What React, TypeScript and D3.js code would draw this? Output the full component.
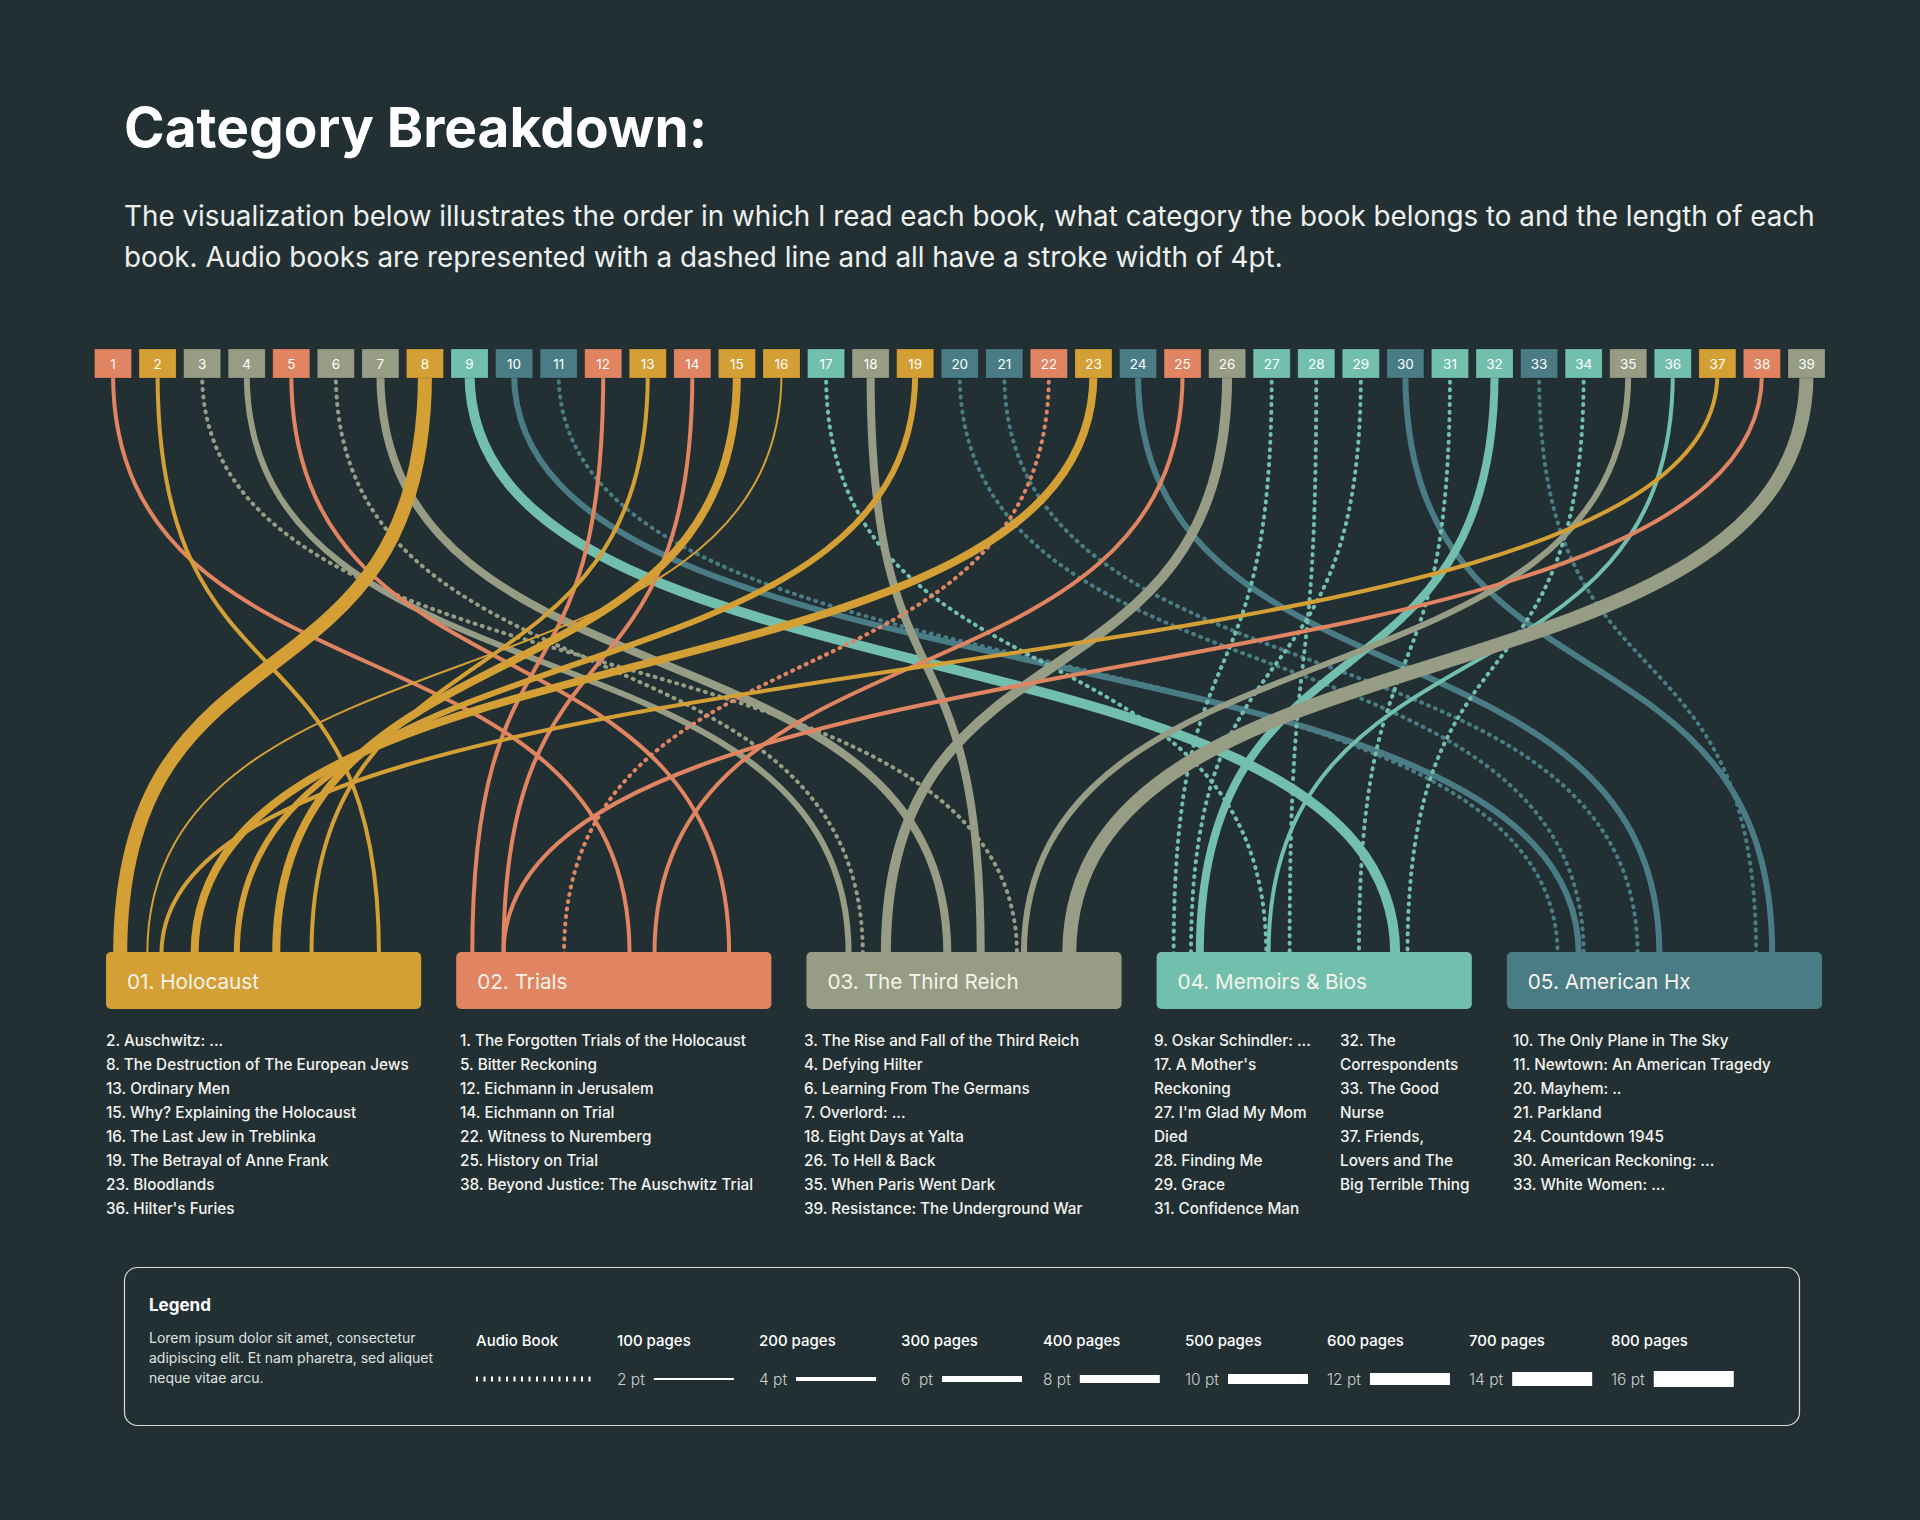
import { useEffect, useRef } from 'react';
import * as d3 from 'd3';

const categoryNames = ['01. Holocaust', '02. Trials', '03. The Third Reich', '04. Memoirs & Bios', '05. American Hx'];
const categoryColors = ['#D4A036', '#E08462', '#979C85', '#73BFAE', '#4A7C86'];

// one entry per book, in reading order 1..39
const bookCategory = [1, 0, 2, 2, 1, 2, 2, 0, 3, 4, 4, 1, 0, 1, 0, 0, 3, 2, 0, 4, 4, 1, 0, 4, 1, 2, 3, 3, 3, 4, 3, 3, 4, 3, 2, 3, 0, 1, 2];
const bookPages = [200, 200, 0, 300, 200, 0, 400, 700, 500, 300, 0, 200, 200, 200, 400, 100, 0, 400, 300, 0, 0, 0, 400, 300, 200, 500, 0, 0, 0, 300, 0, 400, 0, 0, 300, 200, 200, 200, 700];
const bookAudio = [0, 0, 1, 0, 0, 1, 0, 0, 0, 0, 1, 0, 0, 0, 0, 0, 1, 0, 0, 1, 1, 1, 0, 0, 0, 0, 1, 1, 1, 0, 1, 0, 1, 1, 0, 0, 0, 0, 0];
// where each line lands on its category bar (0 = left edge, 1 = right edge)
const bookAnchor = [
  0.55, 0.866, 0.668, 0.134, 0.866, 0.179, 0.447, 0.045, 0.757, 0.228,
  0.161, 0.051, 0.652, 0.15, 0.54, 0.131, 0.348, 0.553, 0.415, 0.244,
  0.415, 0.342, 0.281, 0.484, 0.629, 0.252, 0.054, 0.422, 0.109, 0.842,
  0.642, 0.137, 0.791, 0.796, 0.69, 0.355, 0.176, 0.15, 0.834,
];

const holocaustTitles = ['2. Auschwitz: ...', '8. The Destruction of The European Jews', '13. Ordinary Men', '15. Why? Explaining the Holocaust', '16. The Last Jew in Treblinka', '19. The Betrayal of Anne Frank', '23. Bloodlands', "36. Hilter's Furies"];
const trialsTitles = ['1. The Forgotten Trials of the Holocaust', '5. Bitter Reckoning', '12. Eichmann in Jerusalem', '14. Eichmann on Trial', '22. Witness to Nuremberg', '25. History on Trial', '38. Beyond Justice: The Auschwitz Trial'];
const reichTitles = ['3. The Rise and Fall of the Third Reich', '4. Defying Hilter', '6. Learning From The Germans', '7. Overlord: ...', '18. Eight Days at Yalta', '26. To Hell & Back', '35. When Paris Went Dark', '39. Resistance: The Underground War'];
const memoirsTitlesA = ['9. Oskar Schindler: ...', "17. A Mother's", 'Reckoning', "27. I'm Glad My Mom", 'Died', '28. Finding Me', '29. Grace', '31. Confidence Man'];
const memoirsTitlesB = ['32. The', 'Correspondents', '33. The Good', 'Nurse', '37.  Friends,', 'Lovers and The', 'Big Terrible Thing'];
const americanTitles = ['10. The Only Plane in The Sky', '11. Newtown: An American Tragedy', '20. Mayhem: ..', '21. Parkland', '24. Countdown 1945', '30. American Reckoning: ...', '33. White Women: ...'];

const legendPages = [100, 200, 300, 400, 500, 600, 700, 800];
const legendPt = ['2 pt', '4 pt', '6  pt', '8 pt', '10 pt', '12 pt', '14 pt', '16 pt'];
const lorem = ['Lorem ipsum dolor sit amet, consectetur', 'adipiscing elit. Et nam pharetra, sed aliquet', 'neque vitae arcu.'];

const FONT = 'Inter, Roboto, "Noto Sans", sans-serif';
const BG = '#233033';

export default function App() {
  const svgRef = useRef<SVGSVGElement>(null);

  useEffect(() => {
    document.body.style.margin = '0';
    if (!svgRef.current) {
      return;
    }
    const width = 1920;
    const height = 1520;
    const topY = 349;
    const boxH = 29;
    const catY = 952;
    const catH = 57;

    const svg = d3.select(svgRef.current).attr('width', width).attr('height', height);
    svg.selectAll('*').remove();
    svg.append('rect').attr('width', width).attr('height', height).attr('fill', BG);

    const ids = bookCategory.map((_, i) => String(i + 1));
    const xBook = d3.scalePoint<string>().domain(ids).range([113, 1806.5]);
    const xCat = d3.scaleBand<number>().domain(d3.range(categoryNames.length)).range([106, 1822]).paddingInner(0.1);
    const strokeW = d3.scaleLinear().domain([100, 800]).range([2, 16]);

    // vertical S-curve with long handles so the lines leave and enter straight
    const curve = (x1: number, y1: number, x2: number, y2: number) => {
      const k = (y2 - y1) * 0.6;
      const p = d3.path();
      p.moveTo(x1, y1);
      p.bezierCurveTo(x1, y1 + k, x2, y2 - k, x2, y2);
      return p.toString();
    };

    const g = svg.append('g').style('font-family', FONT);

    // title
    g.append('text').attr('x', 124).attr('y', 147).attr('fill', '#ffffff')
      .style('font-size', '55px').style('font-weight', 700).text('Category Breakdown:');
    const sub = [
      'The visualization below illustrates the order in which I read each book, what category the book belongs to and the length of each',
      'book. Audio books are represented with a dashed line and all have a stroke width of 4pt.',
    ];
    g.selectAll('text.sub').data(sub).enter().append('text').attr('class', 'sub')
      .attr('x', 124).attr('y', (_, i) => 226 + i * 41).attr('fill', '#eef0ee')
      .style('font-size', '27.8px').style('font-weight', 400).text((d) => d);

    // curves
    const books = ids.map((id, i) => ({
      id,
      cat: bookCategory[i],
      audio: bookAudio[i] === 1,
      pages: bookPages[i],
      anchor: bookAnchor[i],
    }));

    g.append('g').selectAll('path').data(books).enter().append('path')
      .attr('d', (d) => curve(xBook(d.id)!, topY + boxH - 4, xCat(d.cat)! + d.anchor * xCat.bandwidth(), catY + 2))
      .attr('fill', 'none')
      .attr('stroke', (d) => categoryColors[d.cat])
      .attr('stroke-width', (d) => (d.audio ? 4 : strokeW(d.pages)))
      .attr('stroke-dasharray', (d) => (d.audio ? '1 6.5' : null))
      .attr('stroke-linecap', (d) => (d.audio ? 'round' : 'butt'));

    // number boxes
    const nb = g.append('g').selectAll('g').data(books).enter().append('g')
      .attr('transform', (d) => `translate(${xBook(d.id)},${topY})`);
    nb.append('rect').attr('x', -18.5).attr('width', 37).attr('height', boxH)
      .attr('fill', (d) => categoryColors[d.cat]).attr('stroke', 'rgba(0,0,0,0.15)').attr('stroke-width', 1);
    nb.append('text').attr('y', boxH / 2 + 5).attr('text-anchor', 'middle').attr('fill', '#ffffff')
      .style('font-size', '13.5px').text((d) => d.id);

    // category bars
    const cb = g.append('g').selectAll('g').data(categoryNames).enter().append('g')
      .attr('transform', (_, i) => `translate(${xCat(i)},${catY})`);
    cb.append('rect').attr('width', xCat.bandwidth()).attr('height', catH).attr('rx', 5)
      .attr('fill', (_, i) => categoryColors[i]);
    cb.append('text').attr('x', 21).attr('y', 37).attr('fill', '#f6f3ea')
      .style('font-size', '20.7px').style('font-weight', 400).text((d) => d);

    // book lists
    const lists: [string[], number][] = [
      [holocaustTitles, 106],
      [trialsTitles, 460],
      [reichTitles, 804],
      [memoirsTitlesA, 1154],
      [memoirsTitlesB, 1340],
      [americanTitles, 1513],
    ];
    lists.forEach(([lines, x]) => {
      g.append('g').selectAll('text').data(lines).enter().append('text')
        .attr('x', x).attr('y', (_, i) => 1046 + i * 24).attr('fill', '#f3f3f0')
        .style('font-size', '15.3px').style('font-weight', 500).text((d) => d);
    });

    // legend
    const lg = g.append('g');
    lg.append('rect').attr('x', 124.5).attr('y', 1267.5).attr('width', 1675).attr('height', 158).attr('rx', 13)
      .attr('fill', 'none').attr('stroke', '#d6d9d8').attr('stroke-width', 1.2);
    lg.append('text').attr('x', 149).attr('y', 1311).attr('fill', '#ffffff')
      .style('font-size', '17px').style('font-weight', 700).text('Legend');
    lg.selectAll('text.lorem').data(lorem).enter().append('text').attr('class', 'lorem')
      .attr('x', 149).attr('y', (_, i) => 1343 + i * 20).attr('fill', '#dfe2e1')
      .style('font-size', '14px').text((d) => d);

    lg.append('text').attr('x', 476).attr('y', 1346).attr('fill', '#ffffff')
      .style('font-size', '15px').style('font-weight', 500).text('Audio Book');
    lg.append('line').attr('x1', 476).attr('x2', 594).attr('y1', 1379).attr('y2', 1379)
      .attr('stroke', '#ffffff').attr('stroke-width', 5).attr('stroke-dasharray', '2 5.5');

    const xLeg = d3.scalePoint<number>().domain(legendPages).range([617, 1611]);
    const items = lg.selectAll('g.item').data(legendPages).enter().append('g').attr('class', 'item')
      .attr('transform', (d) => `translate(${xLeg(d)},0)`);
    items.append('text').attr('y', 1346).attr('fill', '#ffffff')
      .style('font-size', '15px').style('font-weight', 500).text((d) => `${d} pages`);
    items.append('text').attr('class', 'pt').attr('y', 1385).attr('fill', '#c9cfce')
      .style('font-size', '15.5px').style('font-weight', 300).style('white-space', 'pre').text((_, i) => legendPt[i]);
    items.each(function (d) {
      const item = d3.select(this);
      const tw = (item.select('text.pt').node() as SVGTextElement).getComputedTextLength();
      item.append('line').attr('x1', tw + 9).attr('x2', tw + 89).attr('y1', 1379).attr('y2', 1379)
        .attr('stroke', '#ffffff').attr('stroke-width', strokeW(d));
    });
  }, []);

  return (
    <div style={{ background: BG, width: 1920, height: 1520 }}>
      <svg ref={svgRef} style={{ display: 'block' }} />
    </div>
  );
}
